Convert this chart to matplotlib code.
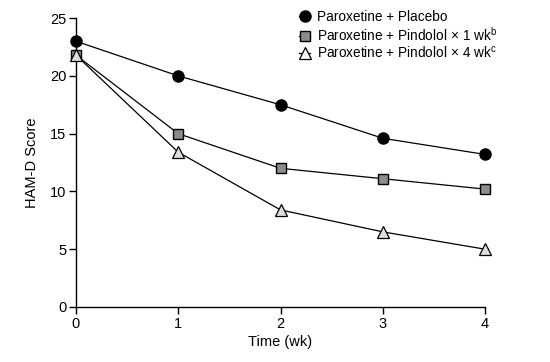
import numpy as np
from matplotlib import pyplot as plt

plt.rcParams['font.family'] = ['Liberation Sans', 'DejaVu Sans']
plt.rcParams['mathtext.fontset'] = 'custom'
plt.rcParams['mathtext.rm'] = 'Liberation Sans'
plt.rcParams['mathtext.it'] = 'Liberation Sans'

## data
weeks = [0, 1, 2, 3, 4]
placebo = [23.0, 20.0, 17.5, 14.6, 13.2]
pindolol_1wk = [21.8, 15.0, 12.0, 11.1, 10.2]
pindolol_4wk = [21.8, 13.4, 8.4, 6.5, 5.0]

labels = ['Paroxetine + Placebo',
          r'Paroxetine + Pindolol$\,\times\,$1 wk$^{\mathrm{b}}$',
          r'Paroxetine + Pindolol$\,\times\,$4 wk$^{\mathrm{c}}$']

fig = plt.figure(figsize=(5.5, 3.62), dpi=100)
ax = fig.add_axes([0.138, 0.152, 0.744, 0.798])

ax.plot(weeks, placebo, color='black', lw=0.9, marker='o', ms=8,
        mfc='black', mec='black', label=labels[0], clip_on=False, zorder=3)
ax.plot(weeks, pindolol_1wk, color='black', lw=0.9, marker='s', ms=7.5,
        mfc='#8c8c8c', mec='black', mew=1.0, label=labels[1], clip_on=False, zorder=3)
ax.plot(weeks, pindolol_4wk, color='black', lw=0.9, marker='^', ms=8,
        mfc='#dedede', mec='black', mew=0.9, label=labels[2], clip_on=False, zorder=4)

ax.set_xlim(0, 4)
ax.set_ylim(0, 25)
ax.set_xticks([0, 1, 2, 3, 4])
ax.set_yticks([0, 5, 10, 15, 20, 25])
ax.spines['top'].set_visible(False)
ax.spines['right'].set_visible(False)
ax.spines['left'].set_linewidth(1.0)
ax.spines['bottom'].set_linewidth(1.0)
ax.tick_params(direction='out', length=5, width=1.0, labelsize=10.5, pad=2)
ax.set_xlabel('Time (wk)', fontsize=10.5, labelpad=3)
ax.set_ylabel('HAM-D Score', fontsize=10.5, labelpad=8)

leg = ax.legend(loc='upper right', bbox_to_anchor=(1.06, 1.07), frameon=False,
                fontsize=9.8, handlelength=0.8, handletextpad=0.5, labelspacing=0.1,
                numpoints=1)
leg.legend_handles[2].set_markerfacecolor('white')

plt.savefig('out.png', dpi=100)
